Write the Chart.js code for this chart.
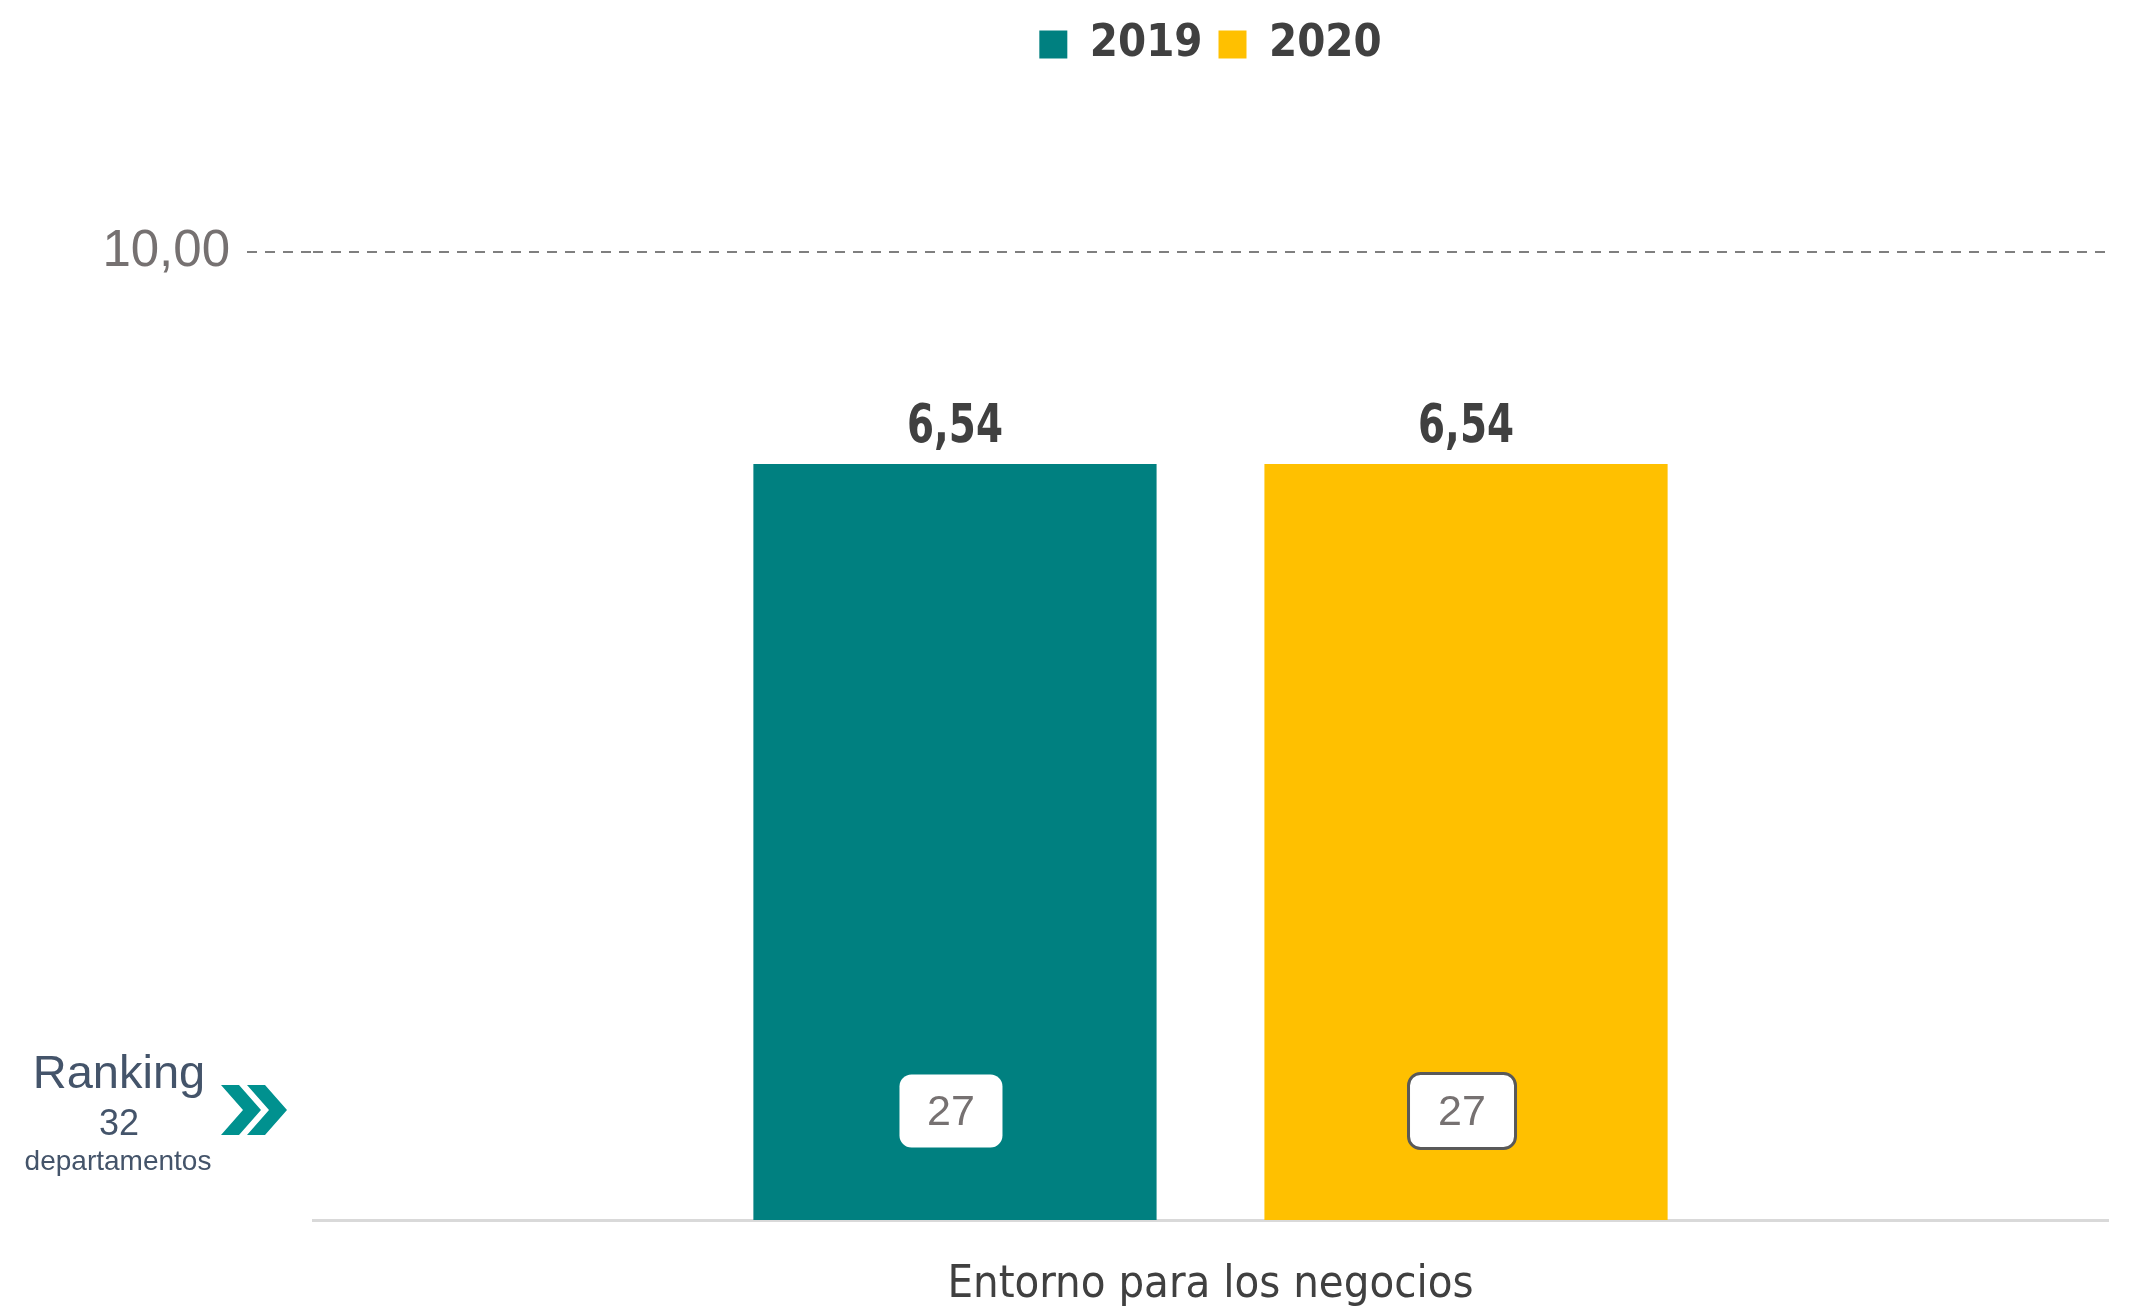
<!DOCTYPE html>
<html>
<head>
    <meta charset="UTF-8">
    <title>Entorno para los negocios</title>
    <script src="https://cdn.jsdelivr.net/npm/chart.js"></script>
    <style>
        body { margin: 0; background: #ffffff; }
        #wrap { width: 2131px; height: 1314px; position: relative; }
    </style>
</head>
<body>
<div id="wrap"><canvas id="rankChart"></canvas></div>

<script>
    // Daten aus dem Bild
    const categories = ['Entorno para los negocios'];
    const seriesLabels = ['2019', '2020'];
    const values2019 = [6.54];
    const values2020 = [6.54];
    const ranks2019 = [27];
    const ranks2020 = [27];
    const refTicks = [10];
    const totalDepartments = 32;

    const condensed = '"Liberation Sans Narrow", "DejaVu Sans Condensed", "Liberation Sans", sans-serif';
    const regular = '"Liberation Sans", Arial, sans-serif';

    const fmt = v => v.toFixed(2).replace('.', ',');

    // Werte und Rang-Kästchen auf den Balken
    const barLabels = {
        id: 'barLabels',
        afterDatasetsDraw(chart) {
            const ctx = chart.ctx;
            const base = chart.scales.y.getPixelForValue(0);
            const ranks = [ranks2019, ranks2020];
            chart.data.datasets.forEach((ds, di) => {
                chart.getDatasetMeta(di).data.forEach((bar, i) => {
                    // Wert über dem Balken (etwas schmaler gezogen)
                    ctx.save();
                    ctx.fillStyle = '#404040';
                    ctx.font = 'bold 54px ' + condensed;
                    ctx.textAlign = 'center';
                    ctx.textBaseline = 'alphabetic';
                    ctx.translate(bar.x, bar.y - 22);
                    ctx.scale(0.8, 1);
                    ctx.fillText(fmt(ds.data[i]), 0, 0);
                    ctx.restore();

                    // Rang-Kästchen
                    ctx.save();
                    const w = di === 0 ? 103 : 107, h = di === 0 ? 73 : 75;
                    const cx = bar.x - 4, cy = base - 109;
                    ctx.beginPath();
                    ctx.roundRect(cx - w / 2, cy - h / 2, w, h, 12);
                    ctx.fillStyle = '#ffffff';
                    ctx.fill();
                    if (di === 1) {
                        ctx.lineWidth = 3;
                        ctx.strokeStyle = '#595959';
                        ctx.stroke();
                    }
                    ctx.fillStyle = '#767171';
                    ctx.font = '43px ' + regular;
                    ctx.textAlign = 'center';
                    ctx.textBaseline = 'middle';
                    ctx.fillText(String(ranks[di][i]), cx, cy + 2);
                    ctx.restore();
                });
            });
        }
    };

    // Ranking-Hinweis links unten
    const rankingNote = {
        id: 'rankingNote',
        afterDraw(chart) {
            const ctx = chart.ctx;
            ctx.save();
            ctx.fillStyle = '#44546A';
            ctx.textAlign = 'center';
            ctx.textBaseline = 'alphabetic';
            ctx.font = '47px ' + regular;
            ctx.fillText('Ranking', 119, 1088);
            ctx.font = '36px ' + regular;
            ctx.fillText(String(totalDepartments), 119, 1135);
            ctx.font = '28px ' + regular;
            ctx.fillText('departamentos', 118, 1170);

            // zwei Pfeile ">>"
            ctx.fillStyle = '#00918F';
            const chevron = (x) => {
                ctx.beginPath();
                ctx.moveTo(x, 1085);
                ctx.lineTo(x + 18, 1085);
                ctx.lineTo(x + 40, 1110);
                ctx.lineTo(x + 18, 1135);
                ctx.lineTo(x, 1135);
                ctx.lineTo(x + 22, 1110);
                ctx.closePath();
                ctx.fill();
            };
            chevron(221);
            chevron(247);
            ctx.restore();
        }
    };

    new Chart(document.getElementById('rankChart'), {
        type: 'bar',
        data: {
            labels: categories,
            datasets: [
                { label: seriesLabels[0], data: values2019, backgroundColor: '#008080',
                  categoryPercentage: 0.5694, barPercentage: 0.789, yAxisID: 'y' },
                { label: seriesLabels[1], data: values2020, backgroundColor: '#FFC000',
                  categoryPercentage: 0.5694, barPercentage: 0.789, yAxisID: 'y' }
            ]
        },
        options: {
            responsive: true,
            maintainAspectRatio: false,
            animation: false,
            layout: { padding: { top: 6, right: 23, left: 0, bottom: 0 } },
            plugins: {
                tooltip: { enabled: false },
                legend: {
                    position: 'top',
                    fullSize: false,
                    labels: {
                        boxWidth: 28,
                        boxHeight: 28,
                        padding: 16,
                        color: '#404040',
                        font: { family: condensed, size: 45, weight: 'bold' }
                    }
                }
            },
            scales: {
                x: {
                    grid: { display: false, drawTicks: false },
                    border: { display: true, color: '#D9D9D9', width: 3 },
                    ticks: {
                        color: '#404040',
                        padding: 38,
                        font: { family: condensed, size: 45 }
                    },
                    afterFit(scale) { scale.height = 94; }
                },
                y: {
                    display: false,
                    min: 0,
                    max: 9.888
                },
                ref: {
                    position: 'left',
                    min: 0,
                    max: 11.808,
                    afterBuildTicks(scale) { scale.ticks = refTicks.map(v => ({ value: v })); },
                    afterFit(scale) { scale.width = 313; },
                    ticks: {
                        color: '#767171',
                        padding: 17,
                        font: { family: regular, size: 51 },
                        callback: v => fmt(v)
                    },
                    grid: {
                        color: '#7F7F7F',
                        lineWidth: 2,
                        tickLength: 66,
                        tickColor: '#7F7F7F',
                        tickWidth: 2,
                        tickBorderDash: [10, 8]
                    },
                    border: { display: false, dash: [10, 8] }
                }
            }
        },
        plugins: [barLabels, rankingNote]
    });
</script>
</body>
</html>
